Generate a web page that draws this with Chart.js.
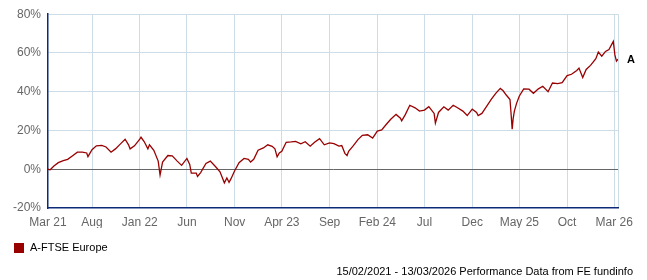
<!DOCTYPE html>
<html lang="en">
  <head>
    <meta charset="UTF-8" />
    <title>A-FTSE Europe performance</title>
    <script src="https://cdn.jsdelivr.net/npm/chart.js"></script>
    <style>
      html, body { margin: 0; padding: 0; background: #fff; }
      #wrap { width: 647px; height: 280px; }
    </style>
  </head>
  <body>
    <div id="wrap"><canvas id="chart" width="647" height="280"></canvas></div>
    <script>
      // series (cumulative % performance)
      const dates = [
        "2021-03-13", "2021-03-20", "2021-04-01", "2021-04-15", "2021-05-01", "2021-05-15",
        "2021-06-01", "2021-06-15", "2021-07-01", "2021-07-15", "2021-07-19", "2021-08-01",
        "2021-08-15", "2021-09-01", "2021-09-15", "2021-10-01", "2021-10-15", "2021-11-01",
        "2021-11-15", "2021-11-26", "2021-12-01", "2021-12-15",
        "2022-01-01", "2022-01-05", "2022-01-15", "2022-01-27", "2022-02-01", "2022-02-15",
        "2022-03-01", "2022-03-07", "2022-03-15", "2022-04-01", "2022-04-15", "2022-05-01",
        "2022-05-15", "2022-06-01", "2022-06-10", "2022-06-15", "2022-07-01", "2022-07-05",
        "2022-07-15", "2022-08-01", "2022-08-15", "2022-09-01", "2022-09-15", "2022-09-29",
        "2022-10-07", "2022-10-14", "2022-10-20", "2022-11-01", "2022-11-15", "2022-12-01",
        "2022-12-15", "2022-12-22",
        "2023-01-01", "2023-01-15", "2023-02-01", "2023-02-15", "2023-03-01", "2023-03-10",
        "2023-03-17", "2023-03-24", "2023-04-01", "2023-04-15", "2023-05-01", "2023-05-15",
        "2023-06-01", "2023-06-15", "2023-07-01", "2023-07-15", "2023-07-31", "2023-08-15",
        "2023-09-01", "2023-09-15", "2023-10-01", "2023-10-10", "2023-10-20", "2023-10-27",
        "2023-11-01", "2023-11-15", "2023-12-01", "2023-12-15",
        "2024-01-01", "2024-01-17", "2024-02-01", "2024-02-15", "2024-03-01", "2024-03-15",
        "2024-04-01", "2024-04-15", "2024-04-19", "2024-05-01", "2024-05-15", "2024-06-01",
        "2024-06-15", "2024-07-01", "2024-07-15", "2024-08-01", "2024-08-05", "2024-08-15",
        "2024-09-01", "2024-09-15", "2024-10-01", "2024-10-15", "2024-11-01", "2024-11-15",
        "2024-12-01", "2024-12-15", "2024-12-20",
        "2025-01-01", "2025-01-15", "2025-02-01", "2025-02-15", "2025-03-01", "2025-03-10",
        "2025-03-20", "2025-04-01", "2025-04-04", "2025-04-08", "2025-04-11", "2025-04-15",
        "2025-04-22", "2025-05-01", "2025-05-15", "2025-06-01", "2025-06-15", "2025-07-01",
        "2025-07-15", "2025-08-01", "2025-08-15", "2025-09-01", "2025-09-15", "2025-10-01",
        "2025-10-15", "2025-11-01", "2025-11-08", "2025-11-20", "2025-12-01", "2025-12-15",
        "2026-01-01", "2026-01-09", "2026-01-20", "2026-02-01", "2026-02-12", "2026-02-20",
        "2026-02-26", "2026-03-03", "2026-03-08", "2026-03-13",
      ];
      const values = [
        0, -0.3, 1.7, 3.4, 4.4, 5.1,
        7.1, 8.8, 8.8, 8.4, 6.5, 10.1,
        12.1, 12.3, 11.5, 8.8, 10.5, 13.2,
        15.5, 12.6, 10.5, 12.1,
        15.5, 16.5, 14.3, 10.5, 12.6, 9.8,
        4.2, -3.0, 3.7, 7.1, 6.9, 4.2,
        2.0, 5.6, 2.5, -2.0, -2.0, -3.7,
        -1.7, 3.0, 4.2, 1.3, -1.3, -7.0,
        -4.5, -6.8, -5.0, -0.8, 3.4, 5.6,
        5.1, 3.7,
        5.1, 9.8, 11.0, 12.6, 11.8, 10.5,
        6.4, 8.4, 9.3, 13.9, 14.1, 14.4,
        13.1, 14.2, 11.9, 13.9, 15.8, 12.6,
        13.6, 13.2, 11.9, 12.2, 8.2, 7.1,
        9.3, 11.9, 15.3, 17.5,
        17.8, 16.1, 19.7, 20.3, 23.2, 25.8,
        28.3, 26.3, 25.0, 28.3, 33.0, 31.7,
        30.0, 30.5, 32.3, 28.8, 23.8, 29.3,
        32.2, 30.5, 33.0, 31.7, 30.0, 27.7,
        31.0, 29.3, 27.7,
        28.8, 32.2, 36.3, 39.3, 41.7, 40.5,
        38.3, 36.0, 29.7, 20.7, 26.0, 30.0,
        34.0, 37.8, 41.5, 41.3, 39.2, 41.5,
        42.8, 40.0, 44.5, 44.2, 44.7, 48.3,
        49.0, 51.0, 52.2, 47.3, 51.5, 53.6,
        57.0, 60.5, 58.3, 60.8, 61.8, 64.2,
        66.0, 59.0, 55.8, 56.8,
      ];

      // x axis ticks
      const tickDates = [
        "2021-03-13", "2021-08-01", "2022-01-01", "2022-06-01", "2022-11-01", "2023-04-01",
        "2023-09-01", "2024-02-01", "2024-07-01", "2024-12-01", "2025-05-01", "2025-10-01",
        "2026-03-01",
      ];
      const tickLabels = [
        "Mar 21", "Aug", "Jan 22", "Jun", "Nov", "Apr 23",
        "Sep", "Feb 24", "Jul", "Dec", "May 25", "Oct",
        "Mar 26",
      ];

      const seriesName = "A-FTSE Europe";
      const seriesTag = "A";
      const footerText = "15/02/2021 - 13/03/2026 Performance Data from FE fundinfo";

      const startMs = Date.UTC(2021, 2, 13);
      function dayOf(s) {
        const [y, m, d] = s.split("-").map(Number);
        return (Date.UTC(y, m - 1, d) - startMs) / 864e5;
      }
      const endDay = dayOf(dates[dates.length - 1]);

      const lineColor = "#990000";
      const gridColor = "#cddde8";
      const axisColor = "#0d2a78";
      const font = "'Liberation Sans', Arial, sans-serif";

      const extras = {
        id: "extras",
        afterDraw(chart) {
          const ctx = chart.ctx;
          const area = chart.chartArea;
          const meta = chart.getDatasetMeta(0);
          const last = meta.data[meta.data.length - 1];
          ctx.save();
          // end-of-line tag
          ctx.fillStyle = "#000";
          ctx.font = "bold 11px " + font;
          ctx.textAlign = "left";
          ctx.textBaseline = "middle";
          ctx.fillText(seriesTag, area.right + 9, last.y + 1);
          // legend
          ctx.fillStyle = lineColor;
          ctx.fillRect(14, 243, 10, 10);
          ctx.fillStyle = "#000";
          ctx.font = "11px " + font;
          ctx.fillText(seriesName, 30, 248);
          // footer
          ctx.textAlign = "right";
          ctx.fillText(footerText, 633, 272);
          ctx.restore();
        },
      };

      new Chart(document.getElementById("chart"), {
        type: "line",
        data: {
          datasets: [
            {
              label: seriesName,
              data: dates.map((d, i) => ({ x: dayOf(d), y: values[i] })),
              borderColor: lineColor,
              borderWidth: 1.3,
              pointRadius: 0,
              tension: 0,
              fill: false,
            },
          ],
        },
        options: {
          responsive: false,
          animation: false,
          devicePixelRatio: 1,
          // the y labels add ~6px on top of this
          layout: { padding: { left: 0, top: 4.8, right: 29, bottom: 52 } },
          plugins: { legend: { display: false }, tooltip: { enabled: false } },
          scales: {
            x: {
              type: "linear",
              min: 0,
              max: endDay,
              afterBuildTicks(scale) {
                scale.ticks = tickDates.map((d) => ({ value: dayOf(d) }));
                scale.ticks.push({ value: endDay });
              },
              afterFit(scale) {
                scale.height = 20;
              },
              ticks: {
                autoSkip: false,
                maxRotation: 0,
                padding: 7,
                color: "#666",
                font: { family: font, size: 12 },
                callback: (v, i) => (i < tickLabels.length ? tickLabels[i] : ""),
              },
              grid: {
                drawTicks: false,
                color: (c) => (c.index === 0 ? "rgba(0,0,0,0)" : gridColor),
              },
              border: { color: axisColor, width: 1.5 },
            },
            y: {
              min: -20,
              max: 80,
              afterFit(scale) {
                scale.width = 48;
              },
              ticks: {
                stepSize: 20,
                padding: 7,
                color: "#666",
                font: { family: font, size: 12 },
                callback: (v) => v + "%",
              },
              grid: {
                drawTicks: false,
                color: (c) =>
                  c.tick.value === 0 ? "#666" : c.tick.value === -20 ? "rgba(0,0,0,0)" : gridColor,
              },
              border: { color: axisColor, width: 1.5 },
            },
          },
        },
        plugins: [extras],
      });
    </script>
  </body>
</html>
